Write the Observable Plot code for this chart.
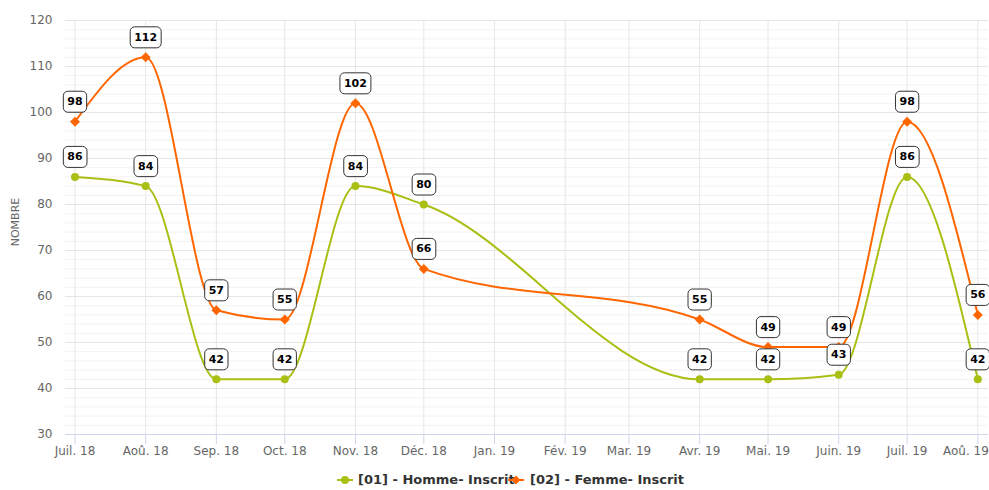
<!DOCTYPE html>
<html><head><meta charset="utf-8">
<script src="https://cdn.jsdelivr.net/npm/d3@7"></script>
<script src="https://cdn.jsdelivr.net/npm/@observablehq/plot@0.6"></script>
<style>
body{margin:0;background:#fff;font-family:"DejaVu Sans",sans-serif;}
#chart svg{display:block;}
#legend{position:relative;width:989px;height:22px;}
#legend .item{position:absolute;top:4px;font:bold 13px "DejaVu Sans",sans-serif;color:#333;white-space:nowrap;line-height:16px;}
#legend svg{position:absolute;top:4px;}
</style></head><body>
<div id="chart"></div>
<div id="legend"></div>
<script>
// Axis months (tick positions) and their labels
const monthTicks = ["2018-07-01","2018-08-01","2018-09-01","2018-10-01","2018-11-01","2018-12-01","2019-01-01","2019-02-01","2019-03-01","2019-04-01","2019-05-01","2019-06-01","2019-07-01","2019-08-01"];
const monthLabels = ["Juil. 18","Aoû. 18","Sep. 18","Oct. 18","Nov. 18","Déc. 18","Jan. 19","Fév. 19","Mar. 19","Avr. 19","Mai. 19","Juin. 19","Juil. 19","Aoû. 19"];
// Months that carry data
const dataMonths = ["2018-07-01","2018-08-01","2018-09-01","2018-10-01","2018-11-01","2018-12-01","2019-04-01","2019-05-01","2019-06-01","2019-07-01","2019-08-01"];
const homme = [86,84,42,42,84,80,42,42,43,86,42];
const femme = [98,112,57,55,102,66,55,49,49,98,56];
const yMajor = [30,40,50,60,70,80,90,100,110,120];
const yMinor = d3.range(30,121,2);
const seriesNames = ["[01] - Homme- Inscrit","[02] - Femme- Inscrit"];
const colors = ["#aabf14","#ff6600"];
const labelInk = "#000001";

const toDate = s => new Date(s + "T00:00:00Z");
const tickDates = monthTicks.map(toDate);
const labelOf = new Map(monthTicks.map((m,i)=>[+toDate(m), monthLabels[i]]));
const hData = dataMonths.map((m,i)=>({date:toDate(m), v:homme[i]}));
const fData = dataMonths.map((m,i)=>({date:toDate(m), v:femme[i]}));

const chart = Plot.plot({
  width: 989, height: 468,
  marginLeft: 65, marginRight: 1, marginTop: 20, marginBottom: 34,
  style: {fontFamily: '"DejaVu Sans",sans-serif', background: "#fff"},
  x: {type: "utc", domain: [new Date(Date.UTC(2018,5,26,20)), new Date(Date.UTC(2019,7,5,16,30))]},
  y: {domain: [30,120]},
  marks: [
    Plot.ruleY(yMinor, {stroke: "#f2f2f2"}),
    Plot.ruleY(yMajor, {stroke: "#e6e6e6"}),
    Plot.ruleX(tickDates, {stroke: "#e6e6e6"}),
    Plot.ruleY([30], {stroke: "#ccd6eb"}),
    Plot.axisY({ticks: yMajor, tickSize: 0, tickPadding: 13, fontSize: 12, fill: "#666", label: null}),
    Plot.axisX({ticks: tickDates, tickSize: 10, tickPadding: 2, stroke: "#ccd6eb", fill: "#666", fontSize: 12, label: null, tickFormat: d => labelOf.get(+d)}),
    Plot.line(hData, {x: "date", y: "v", stroke: colors[0], strokeWidth: 2, curve: "monotone-x"}),
    Plot.line(fData, {x: "date", y: "v", stroke: colors[1], strokeWidth: 2, curve: "monotone-x"}),
    Plot.dot(hData, {x: "date", y: "v", fill: colors[0], r: 4, symbol: "circle"}),
    Plot.dot(fData, {x: "date", y: "v", fill: colors[1], r: 4.5, symbol: "diamond2"}),
    Plot.text(fData, {x: "date", y: "v", text: d => String(d.v), dy: -20, fill: labelInk, fontWeight: "bold", fontSize: 11}),
    Plot.text(hData, {x: "date", y: "v", text: d => String(d.v), dy: -20, fill: labelInk, fontWeight: "bold", fontSize: 11})
  ]
});
document.getElementById("chart").appendChild(chart);

const ns = "http://www.w3.org/2000/svg";
// Y axis title
const yt = document.createElementNS(ns, "text");
yt.setAttribute("transform", "translate(19,222) rotate(-90)");
yt.setAttribute("text-anchor", "middle");
yt.setAttribute("fill", "#666");
yt.setAttribute("font-size", "11");
yt.setAttribute("font-family", '"DejaVu Sans",sans-serif');
yt.textContent = "NOMBRE";
chart.appendChild(yt);

// Keep the last x tick label inside the chart (as the reference does)
const xLabels = chart.querySelectorAll('g[aria-label="x-axis tick label"] text');
if (xLabels.length) {
  const last = xLabels[xLabels.length - 1];
  last.setAttribute("text-anchor", "end");
  last.setAttribute("dx", "11");
}

// Boxes behind data labels
const labelTexts = Array.from(chart.querySelectorAll("text")).filter(t => {
  const g = t.closest("g");
  return (g && g.getAttribute("fill") === labelInk) || t.getAttribute("fill") === labelInk;
});
labelTexts.forEach(t => {
  const bb = t.getBBox();
  const cx = bb.x + bb.width/2, cy = bb.y + bb.height/2;
  const w = bb.width + 8, h = 21;
  const r = document.createElementNS(ns, "rect");
  r.setAttribute("x", cx - w/2); r.setAttribute("y", cy - h/2);
  r.setAttribute("width", w); r.setAttribute("height", h);
  r.setAttribute("rx", 4.5); r.setAttribute("ry", 4.5);
  r.setAttribute("fill", "#fff"); r.setAttribute("stroke", "#333"); r.setAttribute("stroke-width", 1);
  if (t.getAttribute("transform")) r.setAttribute("transform", t.getAttribute("transform"));
  t.parentNode.insertBefore(r, t);
});

// Legend
const legend = document.getElementById("legend");
const items = [
  {sx: 337, tx: 358, sym: "circle"},
  {sx: 508, tx: 530, sym: "diamond"}
];
items.forEach((it, i) => {
  const s = document.createElementNS(ns, "svg");
  s.setAttribute("width", 16); s.setAttribute("height", 16);
  s.style.left = it.sx + "px";
  s.innerHTML = `<line x1="0" x2="16" y1="8" y2="8" stroke="${colors[i]}" stroke-width="2"/>` +
    (it.sym === "circle" ? `<circle cx="8" cy="8" r="4" fill="${colors[i]}"/>`
      : `<path d="M8 3.5L12.5 8L8 12.5L3.5 8Z" fill="${colors[i]}"/>`);
  legend.appendChild(s);
  const d = document.createElement("div");
  d.className = "item"; d.style.left = it.tx + "px"; d.textContent = seriesNames[i];
  legend.appendChild(d);
});
</script>
</body></html>
